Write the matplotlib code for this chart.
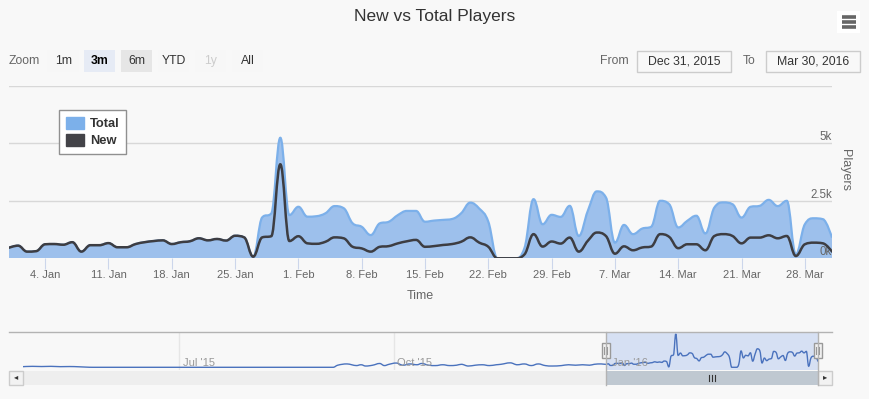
import datetime as dt
import numpy as np
import pandas as pd
import matplotlib
matplotlib.use("Agg")
import matplotlib.pyplot as plt
import matplotlib.dates as mdates
from matplotlib.path import Path
from matplotlib.patches import PathPatch, Rectangle, Patch

plt.rcParams['font.family'] = ['Liberation Sans', 'DejaVu Sans']

# ---- data (thousands of players) ----
start = '2015-12-31'
end = '2016-03-31'

new_players = [
    0.46,
    0.55, 0.29, 0.31, 0.61, 0.62, 0.59, 0.70, 0.29, 0.57, 0.57, 0.66, 0.48, 0.48, 0.62, 0.70, 0.75,
    0.78, 0.62, 0.70, 0.74, 0.87, 0.78, 0.84, 0.77, 0.98, 0.91, 0.07, 0.91, 0.96, 4.09, 0.75,
    0.96, 0.65, 0.63, 0.72, 0.91, 0.87, 0.50, 0.43, 0.29, 0.50, 0.53, 0.65, 0.74, 0.80, 0.50,
    0.53, 0.58, 0.62, 0.72, 0.91, 0.68, 0.50, 0.00, 0.00, 0.00, 0.17, 1.05, 0.51, 0.73,
    0.64, 0.90, 0.29, 0.76, 1.12, 0.97, 0.20, 0.52, 0.35, 0.47, 0.51, 1.05, 0.93, 0.44, 0.61,
    0.61, 0.35, 0.97, 1.05, 0.97, 0.65, 0.90, 0.90, 1.00, 0.87, 0.97, 0.10, 0.61, 0.68, 0.65, 0.29,
]

total_players = [
    0.46,
    0.55, 0.29, 0.31, 0.61, 0.62, 0.59, 0.70, 0.29, 0.57, 0.57, 0.66, 0.48, 0.48, 0.62, 0.70, 0.75,
    0.78, 0.62, 0.70, 0.74, 0.87, 0.78, 0.84, 0.77, 0.98, 0.91, 0.07, 1.78, 1.95, 5.24, 1.88,
    2.24, 1.81, 1.83, 1.96, 2.27, 2.18, 1.52, 1.37, 1.01, 1.52, 1.59, 1.88, 2.06, 2.06, 1.59,
    1.64, 1.67, 1.71, 1.96, 2.42, 2.16, 1.59, 0.00, 0.00, 0.00, 0.45, 2.57, 1.48, 1.89,
    1.80, 2.28, 0.97, 2.06, 2.91, 2.65, 0.68, 1.45, 1.05, 1.29, 1.37, 2.50, 2.35, 1.34, 1.63,
    1.85, 1.08, 2.21, 2.43, 2.35, 1.77, 2.24, 2.28, 2.54, 2.27, 2.50, 0.17, 1.48, 1.74, 1.70, 0.90,
]

# earlier history shown only in the navigator
history_dates = [
    '2015-04-25', '2015-04-29', '2015-05-03', '2015-05-07', '2015-05-11', '2015-05-15',
    '2015-05-19', '2015-05-22', '2015-05-25', '2015-09-05', '2015-09-07', '2015-09-11',
    '2015-09-13', '2015-09-15', '2015-09-17', '2015-09-19', '2015-09-22', '2015-09-25',
    '2015-09-27', '2015-09-29', '2015-10-02', '2015-10-05', '2015-10-08', '2015-10-11',
    '2015-10-13', '2015-10-16', '2015-10-19', '2015-10-22', '2015-10-25', '2015-10-28',
    '2015-10-30', '2015-11-02', '2015-11-05', '2015-11-08', '2015-11-11', '2015-11-14',
    '2015-11-16', '2015-11-20', '2015-11-23', '2015-11-26', '2015-11-29', '2015-12-02',
    '2015-12-05', '2015-12-08', '2015-12-12', '2015-12-15', '2015-12-18', '2015-12-21',
    '2015-12-24', '2015-12-26', '2015-12-29',
]
history_total = [
    0.10, 0.15, 0.12, 0.15, 0.10, 0.12,
    0.08, 0.03, 0.00, 0.00, 0.33, 0.53,
    0.40, 0.27, 0.40, 0.20, 0.33, 0.60,
    0.27, 0.47, 0.67, 0.33, 0.53, 0.40,
    0.60, 0.33, 0.27, 0.40, 0.27, 0.33,
    0.47, 0.20, 0.33, 0.40, 0.27, 0.40,
    0.47, 0.70, 0.40, 0.53, 0.27, 0.53,
    0.27, 0.20, 0.27, 0.40, 0.33, 0.40,
    0.33, 0.47, 0.53,
]

tick_dates = ['2016-01-04', '2016-01-11', '2016-01-18', '2016-01-25', '2016-02-01', '2016-02-08',
              '2016-02-15', '2016-02-22', '2016-02-29', '2016-03-07', '2016-03-14', '2016-03-21',
              '2016-03-28']
tick_labels = ['4. Jan', '11. Jan', '18. Jan', '25. Jan', '1. Feb', '8. Feb', '15. Feb',
               '22. Feb', '29. Feb', '7. Mar', '14. Mar', '21. Mar', '28. Mar']
y_ticks = [0, 2500, 5000, 7500]
y_labels = ['0k', '2.5k', '5k', '']
nav_ticks = ['2015-07-01', '2015-10-01', '2016-01-01']
nav_labels = ["Jul '15", "Oct '15", "Jan '16"]
zoom_buttons = ['1m', '3m', '6m', 'YTD', '1y', 'All']


def spline_path(x, y, smoothing=1.5):
    # Highcharts style spline control points
    n = len(x)
    lc = [(x[i], y[i]) for i in range(n)]
    rc = [(x[i], y[i]) for i in range(n)]
    d = smoothing + 1
    for i in range(1, n - 1):
        px, py = x[i], y[i]
        lx = (smoothing * px + x[i - 1]) / d
        ly = (smoothing * py + y[i - 1]) / d
        rx = (smoothing * px + x[i + 1]) / d
        ry = (smoothing * py + y[i + 1]) / d
        corr = (ry - ly) * (rx - px) / (rx - lx) + py - ry
        ly += corr
        ry += corr
        if ly > y[i - 1] and ly > py:
            ly = max(y[i - 1], py)
            ry = 2 * py - ly
        elif ly < y[i - 1] and ly < py:
            ly = min(y[i - 1], py)
            ry = 2 * py - ly
        if ry > y[i + 1] and ry > py:
            ry = max(y[i + 1], py)
            ly = 2 * py - ry
        elif ry < y[i + 1] and ry < py:
            ry = min(y[i + 1], py)
            ly = 2 * py - ry
        lc[i] = (lx, ly)
        rc[i] = (rx, ry)
    verts = [(x[0], y[0])]
    codes = [Path.MOVETO]
    for i in range(1, n):
        verts += [rc[i - 1], lc[i], (x[i], y[i])]
        codes += [Path.CURVE4] * 3
    return verts, codes


def area_path(x, y):
    verts, codes = spline_path(x, y)
    verts = verts + [(x[-1], 0), (x[0], 0), (x[0], 0)]
    codes = codes + [Path.LINETO, Path.LINETO, Path.CLOSEPOLY]
    return Path(verts, codes)


BG = '#f8f8f8'
W, H = 870, 399
fig = plt.figure(figsize=(W / 100, H / 100), dpi=100, facecolor=BG)


def fax(x0, y0, x1, y1, **kw):
    # axes rectangle from pixel box (top-left origin)
    return fig.add_axes([x0 / W, 1 - y1 / H, (x1 - x0) / W, (y1 - y0) / H], **kw)


# back overlay for chart chrome (pixel coords, y down)
back = fax(0, 0, W, H, zorder=-1)
back.set_xlim(0, W)
back.set_ylim(H, 0)
back.axis('off')

dates = pd.date_range(start, end, freq='D')
xd = mdates.date2num(dates.to_pydatetime())
new_v = np.array(new_players) * 1000
tot_v = np.array(total_players) * 1000

# ---- main chart ----
ax = fax(9, 85.8, 832, 258.3)
ax.set_facecolor('none')
ax.set_xlim(xd[0], xd[-1])
ax.set_ylim(0, 7500)
for s in ax.spines.values():
    s.set_visible(False)
ax.set_yticks(y_ticks)
ax.yaxis.grid(True, color='#d8d8d8', lw=1)
ax.tick_params(axis='y', length=0, labelleft=False)
ax.set_axisbelow(True)
for v, lab in zip(y_ticks, y_labels):
    ax.text(1.0, v, lab, transform=ax.get_yaxis_transform(), ha='right', va='bottom',
            fontsize=8.3, color='#666666')
ax.set_xticks(mdates.date2num([dt.datetime.fromisoformat(t) for t in tick_dates]))
ax.set_xticklabels(tick_labels)
ax.tick_params(axis='x', length=8, color='#ccd6eb', labelsize=8, labelcolor='#666666', pad=0.5)
ax.axhline(0, color='#ccd6eb', lw=1, zorder=1)
ax.set_xlabel('Time', fontsize=9, color='#666666', labelpad=7)

ax.add_patch(PathPatch(area_path(xd, tot_v), facecolor='#9dc0ec', edgecolor='none', zorder=2))
v, c = spline_path(xd, tot_v)
ax.add_patch(PathPatch(Path(v, c), facecolor='none', edgecolor='#7cb0ea', lw=1.6, zorder=3))
v, c = spline_path(xd, new_v)
ax.add_patch(PathPatch(Path(v, c), facecolor='none', edgecolor='#3d3d42', lw=1.8, zorder=4,
                       capstyle='round', joinstyle='round'))

leg = ax.legend(handles=[Patch(color='#7cb0ea', label='Total'), Patch(color='#434348', label='New')],
                loc='upper left', bbox_to_anchor=((59.3 - 9) / 823, (258.3 - 110) / 172.5),
                borderaxespad=0, frameon=True, fancybox=False, edgecolor='#909090',
                facecolor='white', framealpha=1, handlelength=1.35, handleheight=1.0,
                handletextpad=0.45, borderpad=0.55, labelspacing=0.3,
                prop={'weight': 'bold', 'size': 9.3})
leg.get_frame().set_linewidth(1)
for t in leg.get_texts():
    t.set_color('#333333')

fig.text(845 / W, 1 - 170 / H, 'Players', rotation=270, ha='center', va='center',
         fontsize=9, color='#666666')

# ---- navigator ----
hd = mdates.date2num([dt.datetime.fromisoformat(d) for d in history_dates])
nav_x = np.concatenate([hd, xd])
nav_y = np.concatenate([np.array(history_total) * 1000, tot_v])

# scrollbar track background
back.add_patch(Rectangle((9, 370.5), 823, 14, facecolor='#eeeeee', edgecolor='none'))

nav = fax(23, 331.5, 818, 370)
nav.set_facecolor('none')
nav.set_xlim(nav_x[0], nav_x[-1])
nav.set_ylim(-425, 5630)
nav.axis('off')
nt = mdates.date2num([dt.datetime.fromisoformat(d) for d in nav_ticks])
for t, lab in zip(nt, nav_labels):
    nav.axvline(t, color='#e6e6e6', lw=1, zorder=0)
    nav.text(t + 1.5, 0.06, lab, transform=nav.get_xaxis_transform(), fontsize=8,
             color='#999999', ha='left', va='bottom', zorder=5)
nav.axvspan(xd[0], xd[-1], color='#d6e0f3', lw=0, zorder=1)
v, c = spline_path(nav_x, nav_y)
nav.add_patch(PathPatch(Path(v, c), facecolor='none', edgecolor='#4a72bd', lw=1, zorder=3))

# scrollbar thumb shares navigator scale
sb = fax(23, 370.5, 818, 384.5)
sb.set_facecolor('none')
sb.set_xlim(nav_x[0], nav_x[-1])
sb.set_ylim(0, 1)
sb.axis('off')
sb.axvspan(xd[0], xd[-1], color='#bfc8d1', lw=0)

fig.canvas.draw()
x_sel0 = nav.transData.transform((xd[0], 0))[0]
x_sel1 = nav.transData.transform((xd[-1], 0))[0]

# front overlay
ov = fax(0, 0, W, H, zorder=10)
ov.set_facecolor('none')
ov.set_xlim(0, W)
ov.set_ylim(H, 0)
ov.axis('off')

ov.text(435, 17, 'New vs Total Players', ha='center', va='center', fontsize=12.5, color='#333333')
ov.add_patch(Rectangle((837.5, 10.5), 23, 22, facecolor='white', edgecolor='none'))
for yy in (16.5, 21.5, 26.5):
    ov.plot([842, 856], [yy, yy], color='#666666', lw=2.6, solid_capstyle='butt')

ov.text(9, 61, 'Zoom', ha='left', va='center', fontsize=8.8, color='#666666')
btn_x = [47.5, 84, 121, 158, 195, 232]
for bx, lab in zip(btn_x, zoom_buttons):
    fc = '#f7f7f7'
    col = '#333333'
    weight = 'normal'
    if lab == '3m':
        fc, weight, col = '#e6ebf5', 'bold', '#000000'
    elif lab == '6m':
        fc = '#e6e6e6'
    elif lab == '1y':
        col = '#cccccc'
    ov.add_patch(Rectangle((bx, 50), 31.5, 21.5, facecolor=fc, edgecolor='none'))
    ov.text(bx + 15.75, 61, lab, ha='center', va='center', fontsize=8.8, color=col, weight=weight)

ov.text(600, 61, 'From', ha='left', va='center', fontsize=8.8, color='#666666')
ov.text(743, 61, 'To', ha='left', va='center', fontsize=8.8, color='#666666')
for bx, lab in ((637.5, 'Dec 31, 2015'), (766, 'Mar 30, 2016')):
    ov.add_patch(Rectangle((bx, 50.5), 94, 21, facecolor='none', edgecolor='#cccccc', lw=1))
    ov.text(bx + 47, 61, lab, ha='center', va='center', fontsize=8.8, color='#333333')

# navigator outline and scrollbar chrome
ov.plot([9, x_sel0], [331.5, 331.5], color='#b3b3b3', lw=1)
ov.plot([x_sel1, 832], [331.5, 331.5], color='#b3b3b3', lw=1)
ov.plot([x_sel0, x_sel0, x_sel1, x_sel1], [384.5, 331.5, 331.5, 384.5], color='#b3b3b3', lw=1)
for bx, arrow in ((9, '\u25c2'), (818, '\u25b8')):
    ov.add_patch(Rectangle((bx + 0.5, 370.5), 13.5, 14, facecolor='#f2f2f2', edgecolor='#cccccc', lw=1))
    ov.text(bx + 7.2, 377.5, arrow, ha='center', va='center', fontsize=6, color='#333333')
xm = (x_sel0 + x_sel1) / 2
for dx in (-3, 0, 3):
    ov.plot([xm + dx, xm + dx], [374.5, 380.5], color='#333333', lw=0.8)
for hx in (x_sel0, x_sel1):
    ov.add_patch(Rectangle((hx - 4, 343), 8, 15, facecolor='#f2f2f2', edgecolor='#999999', lw=1))
    for dx in (-1.5, 1.5):
        ov.plot([hx + dx, hx + dx], [347, 354], color='#999999', lw=0.8)

fig.savefig('out.png', dpi=100, facecolor=BG)
